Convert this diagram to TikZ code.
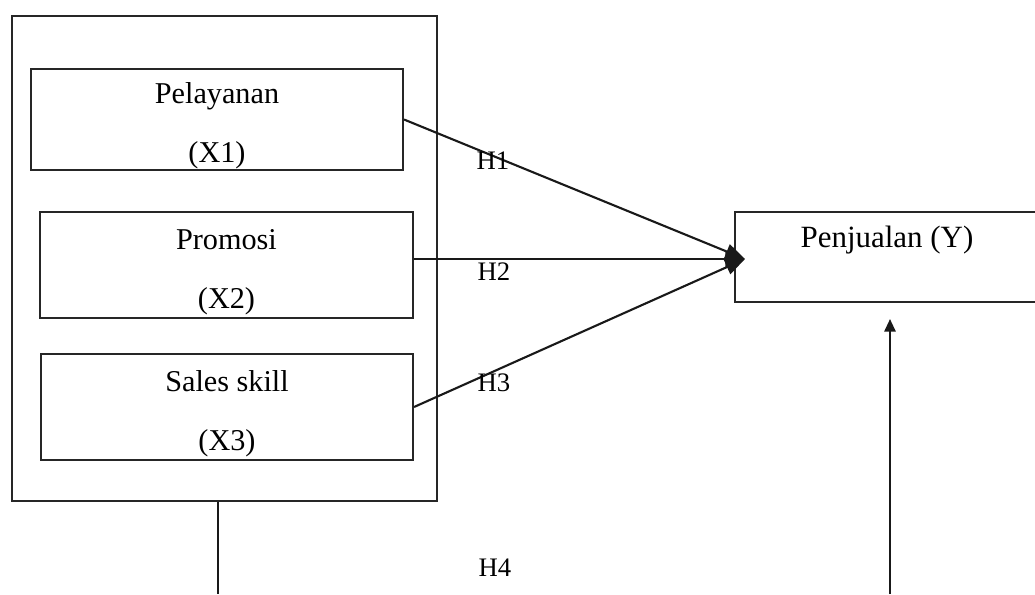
\documentclass[tikz,border=0pt]{standalone}
\usepackage{fontspec}
\setmainfont{Liberation Serif}
\usetikzlibrary{arrows.meta}

\begin{document}
\begin{tikzpicture}[x=0.025cm,y=-0.025cm,
    box/.style={draw=black!85,line width=1.4pt,inner sep=0pt,align=center,
        font=\fontsize{21.5}{42}\selectfont},
    hlab/.style={font=\fontsize{19}{22}\selectfont,inner sep=0pt},
    link/.style={draw=black!90,line width=1.5pt}]
    \useasboundingbox (0,0) rectangle (1035,594);
    \clip (0,0) rectangle (1035,594);
    % outer frame around the three variables
    \node[box,minimum width=10.625cm,minimum height=12.125cm] (outer) at (224.5,258.5) {};
    \node[box,minimum width=9.3cm,minimum height=2.525cm] (pel) at (217,119.5) {\rule{0pt}{24pt}Pelayanan\\(X1)};
    \node[box,minimum width=9.325cm,minimum height=2.65cm] (pro) at (226.5,265) {\rule{0pt}{24pt}Promosi\\(X2)};
    \node[box,minimum width=9.3cm,minimum height=2.65cm] (sal) at (227,407) {\rule{0pt}{24pt}Sales skill\\(X3)};
    \node[box,minimum width=7.625cm,minimum height=2.25cm] (pen) at (887.5,257) {};
    \node[font=\fontsize{22}{26}\selectfont,inner sep=0pt] (pentxt) at (887,240) {Penjualan (Y)};
    \coordinate (tip) at (745,259);
    \foreach \v in {pel,sal}{
        \draw[link,-{Triangle[length=14pt,width=11pt]}] (\v.east) -- (tip);
    }
    \draw[link,-{Triangle[length=14pt,width=11pt]}] (pro.east |- tip) -- (tip);
    % \draw[link] (pro.east) -- (tip);
    \node[hlab] (h1) at (493,161) {H1};
    \node[hlab] (h2) at (494,272) {H2};
    \node[hlab] (h3) at (494,383) {H3};
    \node[hlab] (h4) at (495,568) {H4};
    \coordinate (xfoot) at (218,594);
    \coordinate (yfoot) at (890,594);
    \draw[link] (outer.south -| xfoot) -- (xfoot);
    \draw[link,-{Triangle[length=9pt,width=8pt]}] (yfoot) -- ([yshift=-0.4cm]pen.south -| yfoot);
\end{tikzpicture}
\end{document}
